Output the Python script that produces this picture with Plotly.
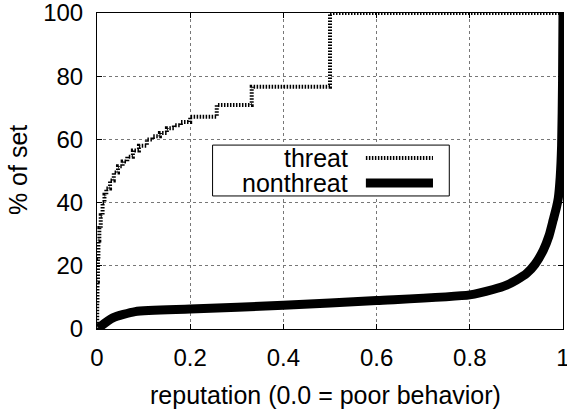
import plotly.graph_objects as go

# threat: step CDF (reputation vs % of set)
threat_x = [0.0, 0.0005, 0.001, 0.002, 0.003, 0.005, 0.008, 0.012, 0.016, 0.02, 0.028,
            0.036, 0.045, 0.055, 0.065, 0.077, 0.09, 0.107, 0.12, 0.135, 0.15, 0.165,
            0.18, 0.2, 0.257, 0.332, 0.5, 1.0]
threat_y = [0.0, 8.0, 15.0, 22.0, 28.0, 32.0, 36.0, 40.0, 42.5, 44.5, 47.0,
            49.5, 51.5, 53.0, 54.5, 56.5, 58.0, 60.0, 61.0, 62.0, 63.5, 64.5,
            65.5, 67.2, 70.9, 76.7, 100.0, 100.0]

# nonthreat: smooth CDF
nonthreat_x = [0.003, 0.034, 0.082, 0.2, 0.4, 0.6, 0.8, 0.85, 0.879, 0.9, 0.922,
               0.94, 0.958, 0.97, 0.979, 0.986, 0.99, 0.994, 0.997, 0.999, 1.0]
nonthreat_y = [0.3, 3.5, 5.5, 6.3, 7.5, 9.0, 10.8, 12.5, 13.9, 15.5, 17.6,
               20.5, 25.0, 29.5, 34.5, 38.5, 41.5, 48.0, 58.0, 78.0, 100.0]

x_ticks = [0, 0.2, 0.4, 0.6, 0.8, 1]
x_ticklabels = ["0", "0.2", "0.4", "0.6", "0.8", "1"]
y_ticks = [0, 20, 40, 60, 80, 100]
y_ticklabels = ["0", "20", "40", "60", "80", "100"]

series_names = ["threat", "nonthreat"]

FONT = "Liberation Sans, Arial, Helvetica, sans-serif"
FS = 24
FS_T = 25

fig = go.Figure()
fig.add_trace(go.Scatter(x=threat_x, y=threat_y, mode="lines", name=series_names[0],
                         line=dict(color="black", width=4, dash="1.5px,1.5px", shape="hv"),
                         showlegend=False))
fig.add_trace(go.Scatter(x=nonthreat_x, y=nonthreat_y, mode="lines", name=series_names[1],
                         line=dict(color="black", width=9, shape="spline", smoothing=0.6),
                         showlegend=False))

axis_common = dict(showline=True, linecolor="black", linewidth=1, mirror="ticks",
                   ticks="inside", ticklen=5, tickcolor="black", tickwidth=1,
                   showgrid=True, gridcolor="#777", griddash="dot", gridwidth=1,
                   zeroline=False, automargin=False, ticklabeloverflow="allow",
                   tickfont=dict(family=FONT, size=FS, color="black"))

fig.update_xaxes(range=[0, 1], tickvals=x_ticks, ticktext=x_ticklabels,
                 ticklabelstandoff=7, **axis_common)
fig.update_yaxes(range=[0, 100], tickvals=y_ticks, ticktext=y_ticklabels,
                 ticklabelstandoff=8, **axis_common)

# axis titles
fig.add_annotation(xref="paper", yref="paper", x=0.49, y=-0.209,
                   text="reputation (0.0 = poor behavior)", showarrow=False,
                   xanchor="center", yanchor="middle",
                   font=dict(family=FONT, size=FS_T, color="black"))
fig.add_annotation(xref="paper", yref="paper", x=-0.1695, y=0.503, text="% of set",
                   showarrow=False, textangle=-90, xanchor="center", yanchor="middle",
                   font=dict(family=FONT, size=FS_T, color="black"))

# manual legend (text left of sample, as in the reference)
lx0, lx1, ly0, ly1 = 0.248, 0.756, 0.421, 0.582
fig.add_shape(type="rect", xref="paper", yref="paper", x0=lx0, x1=lx1, y0=ly0, y1=ly1,
              line=dict(color="black", width=1), fillcolor="white", layer="above")
rows = [0.541, 0.462]
styles = [dict(color="black", width=4, dash="1.5px,1.5px"), dict(color="black", width=9)]
for name, ry, st in zip(series_names, rows, styles):
    fig.add_annotation(xref="paper", yref="paper", x=0.543, y=ry, text=name,
                       showarrow=False, xanchor="right", yanchor="middle",
                       font=dict(family=FONT, size=FS_T, color="black"))
    fig.add_shape(type="line", xref="paper", yref="paper", x0=0.577, x1=0.721,
                  y0=ry, y1=ry, line=st, layer="above")

fig.update_layout(width=567, height=410, margin=dict(l=97, r=4, t=13, b=81),
                  plot_bgcolor="white", paper_bgcolor="white",
                  font=dict(family=FONT, size=FS, color="black"))

# remove the default 8px page margin so the figure starts at the window corner
fig.write_html("out.html", config={"displayModeBar": False},
               post_script="document.body.style.margin='0';document.body.style.overflow='hidden';")
